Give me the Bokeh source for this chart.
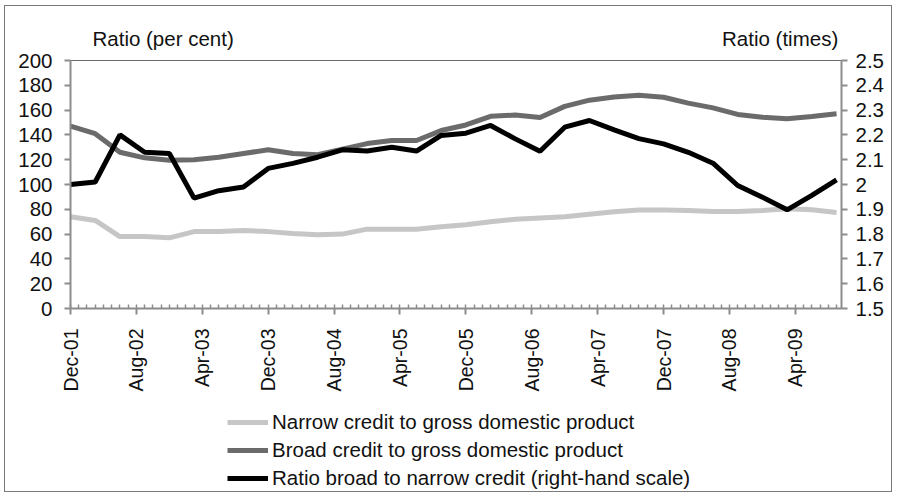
import math
from bokeh.plotting import figure
from bokeh.models import Range1d, LinearAxis, FixedTicker, Label, Legend, LegendItem
from bokeh.embed import file_html
from bokeh.resources import INLINE

# ---------------- data ----------------
quarters = ["Dec-01", "Mar-02", "Jun-02", "Sep-02", "Dec-02", "Mar-03", "Jun-03", "Sep-03",
            "Dec-03", "Mar-04", "Jun-04", "Sep-04", "Dec-04", "Mar-05", "Jun-05", "Sep-05",
            "Dec-05", "Mar-06", "Jun-06", "Sep-06", "Dec-06", "Mar-07", "Jun-07", "Sep-07",
            "Dec-07", "Mar-08", "Jun-08", "Sep-08", "Dec-08", "Mar-09", "Jun-09", "Sep-09"]

narrow = [74, 71, 58, 58, 57, 62, 62, 63,
          62, 60.5, 59.5, 60, 64, 64, 64, 66,
          67.5, 70, 72, 73, 74, 76, 78, 79.4,
          79.4, 79, 78.2, 78.2, 79, 80.4, 79.6, 77.4]

broad = [147, 141, 126, 121.5, 119.5, 120, 122, 125,
         128, 125, 124, 128.5, 133, 135.5, 135.5, 143.5,
         148, 155, 156, 154, 163, 168, 170.5, 172,
         170.4, 165.6, 161.8, 156.5, 154.3, 153, 154.8, 157]

ratio = [2.00, 2.01, 2.20, 2.13, 2.125, 1.945, 1.975, 1.99,
         2.065, 2.085, 2.11, 2.14, 2.135, 2.15, 2.135, 2.198,
         2.207, 2.238, 2.184, 2.134, 2.231, 2.258, 2.22, 2.185,
         2.164, 2.13, 2.086, 1.996, 1.949, 1.898, 1.956, 2.019]

x_tick_labels = ["Dec-01", "Aug-02", "Apr-03", "Dec-03", "Aug-04", "Apr-05",
                 "Dec-05", "Aug-06", "Apr-07", "Dec-07", "Aug-08", "Apr-09"]
left_ticks = [0, 20, 40, 60, 80, 100, 120, 140, 160, 180, 200]
right_ticks = [1.5, 1.6, 1.7, 1.8, 1.9, 2.0, 2.1, 2.2, 2.3, 2.4, 2.5]

series_names = ["Narrow credit to gross domestic product",
                "Broad credit to gross domestic product",
                "Ratio broad to narrow credit (right-hand scale)"]
left_title = "Ratio (per cent)"
right_title = "Ratio (times)"

MONTHS = ["Jan", "Feb", "Mar", "Apr", "May", "Jun", "Jul", "Aug", "Sep", "Oct", "Nov", "Dec"]


def month_index(lbl):
    mon, yy = lbl.split("-")
    return (2000 + int(yy) - 2001) * 12 + MONTHS.index(mon) + 1 - 12


xq = [month_index(q) for q in quarters]
xt = [month_index(t) for t in x_tick_labels]
X_MAX = 93.6
minor = list(range(0, 94))

# Layout (pixels of the canvas). The frame fills the whole canvas; the axes are
# fixed at the edges of the value area so nothing gets clipped.
CANVAS_W, CANVAS_H = 888, 487
LEFT_PX, VALUE_W = 65, 771
ABOVE_H, VALUE_H = 54, 248
RIGHT_PX = CANVAS_W - LEFT_PX - VALUE_W
BELOW_H = CANVAS_H - ABOVE_H - VALUE_H

L_MIN, L_MAX = left_ticks[0], left_ticks[-1]
R_MIN, R_MAX = right_ticks[0], right_ticks[-1]
X_LO = -X_MAX * LEFT_PX / VALUE_W
X_HI = X_MAX + X_MAX * RIGHT_PX / VALUE_W
L_TOP = L_MAX + (L_MAX - L_MIN) * ABOVE_H / VALUE_H
L_BOT = L_MIN - (L_MAX - L_MIN) * BELOW_H / VALUE_H
R_TOP = R_MAX + (R_MAX - R_MIN) * ABOVE_H / VALUE_H
R_BOT = R_MIN - (R_MAX - R_MIN) * BELOW_H / VALUE_H

FONT = "Liberation Sans"
FS = "20.5px"
FS_X = "19.5px"
AX = "#8c8c8c"
TXT = "#111111"

p = figure(width=CANVAS_W, height=CANVAS_H, output_backend="svg", toolbar_location=None,
           x_range=Range1d(X_LO, X_HI), y_range=Range1d(L_BOT, L_TOP),
           min_border_left=0, min_border_top=0, min_border_right=0, min_border_bottom=0,
           x_axis_location=None, y_axis_location=None)
p.styles = {"border": "1px solid #7a7a7a", "margin": "5px 0px 0px 4px"}
p.extra_y_ranges = {"r": Range1d(R_BOT, R_TOP)}
p.xgrid.visible = False
p.ygrid.visible = False
p.outline_line_color = None
p.background_fill_color = "white"
p.border_fill_color = "white"

xa = LinearAxis(ticker=FixedTicker(ticks=xt, minor_ticks=minor), fixed_location=L_MIN,
                bounds=(0, X_MAX),
                major_label_overrides={t: l for t, l in zip(xt, x_tick_labels)})
ya = LinearAxis(ticker=FixedTicker(ticks=left_ticks), fixed_location=0, bounds=(L_MIN, L_MAX))
yr = LinearAxis(y_range_name="r", ticker=FixedTicker(ticks=right_ticks), fixed_location=X_MAX,
                bounds=(R_MIN, R_MAX), major_label_overrides={2.0: "2"})

for ax in (xa, ya, yr):
    ax.axis_line_color = AX
    ax.axis_line_width = 2
    ax.major_tick_line_color = AX
    ax.major_tick_line_width = 2
    ax.minor_tick_line_color = AX
    ax.minor_tick_line_width = 1.5
    ax.major_label_text_font = FONT
    ax.major_label_text_font_size = FS
    ax.major_label_text_color = TXT

xa.major_tick_in = 0
xa.major_tick_out = 6
xa.minor_tick_in = 4
xa.minor_tick_out = 0
xa.major_label_standoff = 14
xa.major_label_orientation = math.pi / 2
xa.major_label_text_font_size = FS_X

for ax in (ya, yr):
    ax.major_tick_in = 0
    ax.major_tick_out = 6
    ax.minor_tick_line_color = None
ya.major_label_standoff = 12
yr.major_label_standoff = 8

p.add_layout(xa, "below")
p.add_layout(ya, "left")
p.add_layout(yr, "right")

# top border of the value area
p.segment(x0=[0], y0=[L_MAX], x1=[X_MAX], y1=[L_MAX], line_color="#6a6a6a", line_width=1.2)

r1 = p.line(xq, narrow, line_color="#c6c6c6", line_width=5)
r2 = p.line(xq, broad, line_color="#6b6b6b", line_width=5)
r3 = p.line(xq, ratio, line_color="#000000", line_width=5, y_range_name="r")

p.add_layout(Label(x=2.67, y=218, text=left_title, text_font=FONT, text_font_size=FS,
                   text_align="left", text_baseline="middle", text_color=TXT))
p.add_layout(Label(x=93.2, y=218, text=right_title, text_font=FONT, text_font_size=FS,
                   text_align="right", text_baseline="middle", text_color=TXT))

legend = Legend(items=[LegendItem(label=series_names[0], renderers=[r1]),
                       LegendItem(label=series_names[1], renderers=[r2]),
                       LegendItem(label=series_names[2], renderers=[r3])],
                location=(LEFT_PX + 157, 3), orientation="vertical",
                padding=0, margin=0, spacing=4,
                glyph_width=41, glyph_height=22, label_height=22, label_standoff=4,
                label_text_font=FONT, label_text_font_size=FS, label_text_color=TXT,
                border_line_color=None, background_fill_alpha=0)
p.add_layout(legend, "center")

open("out.html", "w").write(file_html(p, INLINE))
